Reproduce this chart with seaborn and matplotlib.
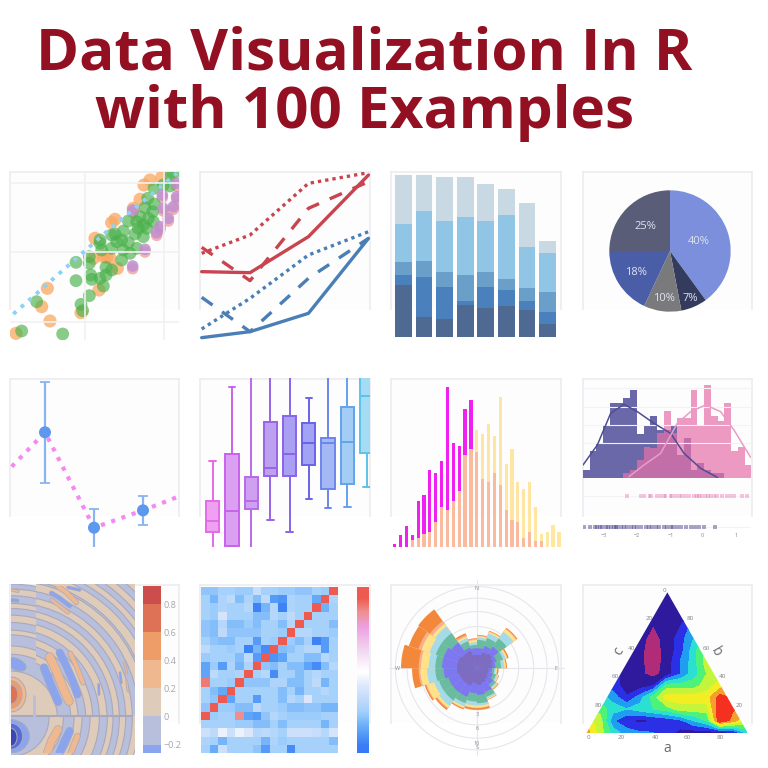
import numpy as np
import pandas as pd
import seaborn as sns
import matplotlib
matplotlib.use("Agg")
import matplotlib.pyplot as plt
import matplotlib.patheffects as pe
from matplotlib.cm import ScalarMappable
from matplotlib.colors import BoundaryNorm, LinearSegmentedColormap, ListedColormap
from matplotlib.patches import Circle, Ellipse, Polygon, Rectangle

# --- panel 1: scatter
orange_x = [48, 125, 150, 142, 297, 243, 352, 320, 285, 335, 345, 400, 420, 432, 450, 485, 280, 310, 330]
orange_y = [520, 440, 483, 385, 390, 458, 325, 292, 235, 188, 178, 145, 118, 75, 60, 52, 295, 290, 295]
green_x = [65, 110, 188, 228, 228, 243, 248, 268, 268, 268, 272, 275, 300, 318, 310, 318, 335, 300, 300, 305,
           335, 335, 345, 370, 370, 385, 365, 390, 405, 430, 385, 410, 420, 430, 445, 460, 435, 463, 458, 443,
           462, 510, 510, 490, 520, 410, 365, 350, 440, 415]
green_y = [513, 425, 522, 362, 307, 433, 452, 407, 290, 310, 345, 358, 355, 345, 378, 322, 330, 240, 250, 270,
           265, 225, 222, 213, 270, 248, 300, 280, 222, 230, 183, 185, 170, 195, 175, 185, 143, 132, 155, 115,
           85, 45, 78, 75, 40, 265, 240, 245, 205, 205]
purple_x = [398, 398, 435, 470, 480, 505, 490, 520, 530, 487, 530]
purple_y = [150, 318, 268, 218, 200, 175, 145, 140, 110, 105, 70]
trend_x = [40, 320, 530]
trend_y = [462, 215, 40]

# --- panel 2: lines
line_x = [605, 750, 925, 1105]
red_solid = [335, 338, 230, 45]
red_dash = [262, 362, 145, 65]
red_dot = [280, 225, 70, 38]
blue_solid = [533, 515, 460, 235]
blue_dash = [412, 515, 355, 235]
blue_dot = [507, 415, 285, 215]

# --- panel 3: stacked bars
stack_1 = [52, 20, 18, 32, 29, 31, 27, 13]
stack_2 = [10, 40, 32, 4, 21, 16, 9, 12]
stack_3 = [13, 16, 15, 26, 15, 11, 13, 20]
stack_4 = [38, 50, 51, 58, 51, 64, 41, 39]
stack_5 = [49, 36, 44, 40, 37, 26, 44, 12]

# --- panel 4: pie
pie_values = [40, 7, 10, 18, 25]
pie_colors = ["#7b8fdc", "#343c5e", "#7a7a7c", "#4a5ea8", "#5a5d78"]

# --- panel 5: error bars
err_x = [135, 282, 429]
err_y = [187, 473, 421]
err_top = [35, 231, 377]
err_bottom = [337, 530, 463]
err_line_x = [35, 135, 282, 429, 535]
err_line_y = [290, 187, 473, 421, 380]

# --- panel 6: boxes (low, q1, median, q3, high)
box_values = [
    [-5, 14.3, 26, 46, 85.7],
    [1, 1, 35.3, 92.3, 159.3],
    [-5, 38, 46, 69.7, 180],
    [26.3, 71, 78.3, 124.3, 180],
    [14.3, 71, 92.7, 130.3, 180],
    [47.3, 82, 103.3, 123.7, 148.3],
    [38.3, 57.7, 103.3, 108.3, 180],
    [40, 62.7, 105, 139.3, 180],
    [59.7, 93.7, 150.3, 175, 180],
]
box_edges = ["#e36be8", "#c862ec", "#b86ae8", "#9a63e6", "#8a63ea", "#6a62e8", "#6d85ea", "#62a3ec", "#5cc2ec"]
box_fills = ["#f0a0f0", "#dca0f2", "#cfa0f0", "#bda0f0", "#a9a0f4", "#a3a3f5", "#a3b8f5", "#a3cdf5", "#a5dcf3"]

# --- panel 7: overlaid histogram
hist_magenta = [3, 12, 21, 12, 46, 52, 77, 74, 86, 160, 104, 101, 138, 147, 95, 68, 65, 74, 62, 37, 27, 25, 9, 15, 6, 6, 0, 0, 0]
hist_yellow = [0, 0, 0, 7, 9, 13, 15, 25, 40, 37, 46, 56, 92, 98, 117, 113, 123, 111, 150, 83, 98, 65, 58, 65, 40, 13, 15, 22, 15]

# --- panel 8: distribution with rugs
dist_blue = [8, 27, 34, 53, 75, 75, 80, 88, 44, 53, 62, 48, 48, 53, 23, 40, 8, 15, 8, 5, 5, 0, 0, 0, 0]
dist_pink = [0, 0, 0, 0, 0, 0, 5, 8, 18, 31, 30, 45, 67, 45, 60, 60, 88, 53, 93, 62, 57, 75, 27, 31, 13]
kde_blue_x = [597, 640, 680, 720, 760, 810, 860, 900, 950, 1000]
kde_blue_y = [285, 225, 130, 103, 125, 160, 190, 250, 295, 322]
kde_pink_x = [735, 780, 830, 880, 920, 965, 1010, 1050, 1100]
kde_pink_y = [320, 285, 250, 160, 125, 105, 125, 180, 262]
rug_pink = [730, 772, 782, 797, 802, 820, 830, 840, 845, 860, 865, 875, 885, 895, 905, 915, 930, 940, 945, 955,
            965, 972, 980, 990, 1000, 1015, 1030, 1040, 1050, 1075, 1090]
rug_blue = [600, 618, 632, 640, 648, 655, 665, 672, 680, 690, 695, 700, 710, 720, 730, 740, 750, 760, 770, 785,
            795, 805, 815, 825, 840, 850, 860, 868, 880, 890, 905, 920, 932, 945, 960, 992]
dist_ticks = [660, 760, 860, 955, 1055]
dist_tick_labels = ["−3", "−2", "−1", "0", "1"]

# --- panel 9: contour bands, radii of the band edges
band_center = (8, 400)
bands_upper = [140, 180, 202, 225, 246, 266, 289, 307, 326, 345, 365, 385, 409, 415, 441, 457, 474, 491, 511, 530, 560]
bands_strip = [140, 190, 215, 248, 262, 285, 307, 327, 342, 365, 385, 400]
bands_lower = [115, 158, 190, 214, 238, 266, 290, 307, 326, 345, 365, 385]
# lobes: (colour name, width, centre line x, centre line y)
lobes = [
    ("blue", 22, [108, 118, 130, 150], [250, 275, 305, 352]),
    ("orange", 24, [125, 145, 165, 183], [218, 260, 310, 350]),
    ("blue", 20, [155, 175, 195, 208], [205, 245, 290, 330]),
    ("orange", 12, [187, 205, 225], [207, 245, 295]),
    ("orange", 22, [150, 130, 118], [435, 470, 505]),
    ("blue", 22, [185, 170, 155], [440, 470, 505]),
    ("orange", 16, [208, 198, 188], [455, 480, 505]),
    ("orange", 12, [150, 175, 205], [8, 25, 55]),
    ("blue", 10, [130, 155, 185], [27, 42, 65]),
    ("orange", 8, [130, 150, 180], [47, 62, 85]),
    ("blue", 6, [180, 215], [10, 18]),
    ("orange", 5, [12, 30], [18, 22]),
    ("blue", 8, [12, 28], [48, 50]),
    ("orange", 4, [350, 356], [235, 265]),
    ("blue", 4, [336, 340], [265, 295]),
    ("orange", 4, [356, 360], [290, 320]),
    ("blue", 4, [272, 273], [300, 330]),
]
contour_levels = [-0.8, -0.6, -0.4, -0.2, 0, 0.2, 0.4, 0.6, 0.8, 1.0]
contour_colors = ["#3c46b4", "#5a6cd8", "#8aa5ee", "#b7bfdc", "#dfcbb9", "#efb88f", "#ee9c68", "#dd7257", "#cc4e4c"]
contour_ticks = [-0.2, 0, 0.2, 0.4, 0.6, 0.8]

# --- panel 10: heatmap
heat_rows = [
    [22, 22, 26, 26, 24, 24, 34, 26, 26, 24, 24, 22, 22, 26, 24, 93],
    [26, 18, 28, 32, 20, 28, 20, 32, 12, 10, 28, 26, 26, 15, 93, 28],
    [26, 24, 28, 26, 26, 30, 6, 18, 30, 6, 28, 26, 26, 93, 17, 26],
    [26, 24, 38, 26, 26, 26, 20, 20, 30, 26, 32, 26, 93, 26, 26, 26],
    [22, 20, 30, 20, 20, 24, 20, 26, 26, 20, 30, 93, 26, 26, 26, 20],
    [22, 20, 32, 22, 22, 22, 22, 26, 26, 24, 93, 30, 30, 26, 26, 24],
    [26, 22, 20, 20, 26, 26, 12, 26, 24, 93, 24, 20, 26, 6, 12, 26],
    [32, 26, 26, 24, 26, 6, 18, 8, 93, 20, 22, 26, 30, 30, 12, 26],
    [24, 26, 26, 26, 20, 32, 12, 93, 10, 14, 26, 26, 20, 20, 30, 26],
    [14, 24, 12, 28, 18, 28, 93, 22, 20, 26, 20, 20, 14, 8, 20, 30],
    [14, 32, 26, 26, 28, 93, 26, 30, 8, 26, 26, 20, 26, 30, 26, 26],
    [88, 26, 26, 24, 93, 22, 22, 22, 28, 28, 20, 20, 26, 32, 18, 26],
    [26, 20, 15, 93, 26, 26, 26, 26, 26, 20, 26, 18, 26, 26, 30, 26],
    [26, 22, 93, 14, 26, 26, 12, 26, 26, 20, 30, 26, 40, 26, 26, 26],
    [22, 93, 24, 24, 20, 20, 32, 26, 26, 24, 20, 20, 22, 22, 18, 18],
    [93, 24, 26, 26, 85, 14, 12, 22, 30, 26, 24, 24, 24, 24, 26, 26],
    [26, 26, 26, 26, 24, 24, 20, 20, 26, 20, 26, 26, 26, 26, 18, 26],
    [36, 32, 44, 36, 44, 40, 30, 32, 30, 26, 36, 36, 36, 34, 30, 38],
    [28, 26, 18, 26, 26, 26, 26, 18, 28, 24, 26, 26, 26, 26, 26, 20],
    [26, 16, 36, 26, 26, 26, 22, 12, 26, 26, 8, 26, 26, 26, 26, 26],
]

# --- panel 11: wind rose, outer radius of each layer per sector
rose_dark = [40, 50, 55, 50, 45, 35, 35, 40, 45, 50, 45, 55, 55, 55, 60, 60, 60, 55, 55, 40]
rose_blue = [60, 70, 80, 62, 55, 45, 50, 60, 75, 80, 75, 90, 90, 90, 100, 105, 105, 95, 65, 60]
rose_green = [85, 95, 110, 82, 72, 52, 60, 70, 90, 105, 100, 110, 120, 120, 125, 125, 130, 130, 85, 70]
rose_light = [92, 110, 135, 90, 82, 56, 65, 74, 95, 112, 112, 120, 140, 135, 150, 145, 150, 155, 95, 78]
rose_yellow = [96, 115, 145, 95, 86, 60, 68, 77, 98, 118, 118, 125, 147, 158, 170, 168, 175, 165, 100, 85]
rose_salmon = [98, 116, 147, 96, 87, 61, 69, 78, 99, 120, 120, 127, 150, 161, 175, 175, 185, 175, 105, 88]
rose_orange = [100, 118, 150, 100, 90, 65, 70, 80, 100, 125, 125, 130, 155, 165, 195, 228, 215, 218, 110, 90]
rose_rings = [80, 125, 170, 210, 245]

# --- panel 12: ternary contour
ternary_x = [20, 60, 100, 140, 180, 220, 260, 300, 340, 380, 420, 460, 500]
ternary_y = [25, 60, 95, 130, 165, 200, 235, 270, 305, 340, 375, 410, 445]
ternary_z = [
    [1, 1, 1, 1, 1, 1, 1, 1, 1, 1, 1, 1, 1],
    [1, 1, 1, 1, 1, 1, 1, 1, 1, 2, 2, 2, 2],
    [1, 1, 1, 1, 1, 1, 1, 1, 2, 3, 3, 3, 3],
    [1, 1, 1, 1, 1, 0.45, 1, 1.5, 3, 4, 4, 4, 4],
    [1, 1, 1, 1, 0.8, 0.1, 0.85, 2, 3.5, 5, 5, 5, 5],
    [1, 1, 1, 1, 0.7, 0, 0.85, 2, 4, 6, 6, 6, 6],
    [2, 2, 2, 1, 0.7, 0, 0.85, 2.5, 4, 6, 6, 6, 6],
    [3, 3, 2, 1, 0.7, 0.1, 0.95, 2.5, 4, 5.5, 6, 7, 7],
    [4, 3, 2, 1, 1, 1.5, 5, 5, 5, 6, 7, 8, 8],
    [5, 4, 3, 1.6, 3, 5, 7, 7, 7, 7, 9, 8.2, 9],
    [6, 5, 4, 3.5, 4, 4.5, 5, 6, 6, 6, 9.5, 8.6, 8],
    [7, 6, 2.6, 1.6, 1.2, 1.5, 1.8, 2.2, 3.5, 4.5, 9.5, 8, 6],
    [8, 6, 4, 3, 2.6, 2.5, 2, 1.2, 1, 1, 1, 1.5, 4],
]
ternary_colors = ["#b02c78", "#2f1a9e", "#2b2fe6", "#1f9df0", "#2be0d0", "#4cf27a", "#c4f53a", "#f2ee24", "#f5a02c", "#f43020"]

sns.set_style("white")
plt.rcParams["font.family"] = ["Open Sans", "DejaVu Sans"]

fig = plt.figure(figsize=(7.68, 7.68), dpi=100)
FRAME = "#ececf1"


def px_axes(x0, y0, x1, y1, **kw):
    """axes placed by its pixel box in the 768x768 picture, y measured from the top"""
    ax = fig.add_axes([x0 / 768, 1 - y1 / 768, (x1 - x0) / 768, (y1 - y0) / 768], **kw)
    ax.patch.set_alpha(0)
    return ax


def bare(ax):
    ax.set_xticks([])
    ax.set_yticks([])
    ax.set_xlabel("")
    ax.set_ylabel("")
    for s in ax.spines.values():
        s.set_visible(False)


def frame(x0, y0, x1, y1):
    ax = px_axes(x0, y0, x1, y1)
    ax.patch.set_facecolor("#fdfdfe")
    ax.patch.set_alpha(1)
    ax.set_xticks([])
    ax.set_yticks([])
    ax.spines["bottom"].set_visible(False)
    for name in ["left", "right", "top"]:
        ax.spines[name].set_color(FRAME)
        ax.spines[name].set_linewidth(1.2)


def line(ax, x, y, color, lw, ls="-"):
    sns.lineplot(x=x, y=y, color=color, linewidth=lw, linestyle=ls, sort=False, estimator=None, ax=ax, legend=False)


for left, right in [(10, 178.5), (200, 369.5), (391, 561), (582.5, 752)]:
    frame(left, 172, right, 309)
    frame(left, 378.5, right, 516)
    frame(left, 585, right, 723)

# title
fig.text(364 / 768, 1 - 70 / 768, "Data Visualization In R", ha="center", va="baseline",
         fontsize=42, fontweight="bold", color="#931022")
fig.text(364.5 / 768, 1 - 128 / 768, "with 100 Examples", ha="center", va="baseline",
         fontsize=42, fontweight="bold", color="#931022")

# panel 1
ax = px_axes(10, 172, 179, 340)
for v in [255, 492]:
    ax.axvline(v, color="#f1f1f5", lw=1.2)
for v in [68, 275, 485]:
    ax.axhline(v, color="#f1f1f5", lw=1.2)
line(ax, trend_x, trend_y, "#8fd0f5", 2.8, (0, (1, 1.6)))
sns.scatterplot(x=orange_x, y=orange_y, color="#f9a860", s=90, alpha=0.75, edgecolor="none", ax=ax)
sns.scatterplot(x=purple_x, y=[v + 8 for v in purple_y], color="#f0a0a0", s=70, alpha=0.8, edgecolor="none", ax=ax)
sns.scatterplot(x=green_x, y=green_y, color="#4ab04a", s=85, alpha=0.65, edgecolor="none", ax=ax)
sns.scatterplot(x=purple_x, y=purple_y, color="#c08fd0", s=70, alpha=0.85, edgecolor="none", ax=ax)
ax.set_xlim(30, 537)
ax.set_ylim(540, 36)
bare(ax)

# panel 2
ax = px_axes(200, 172, 369.5, 340)
line(ax, line_x, red_solid, "#c9444e", 2.4)
line(ax, line_x, red_dash, "#c9444e", 2.4, (0, (4, 3.5)))
line(ax, line_x, red_dot, "#c9444e", 2.4, (0, (1, 1.2)))
line(ax, line_x, blue_solid, "#4a7fb5", 2.4)
line(ax, line_x, blue_dash, "#4a7fb5", 2.4, (0, (4, 3.5)))
line(ax, line_x, blue_dot, "#4a7fb5", 2.4, (0, (1, 1.2)))
ax.set_xlim(600, 1108)
ax.set_ylim(540, 36)
bare(ax)

# panel 3, drawn tallest first so each layer shows above the next one
ax = px_axes(391, 172, 561, 337)
stacks = np.cumsum([stack_1, stack_2, stack_3, stack_4, stack_5], axis=0)
stack_colors = ["#4f6a92", "#4a80bb", "#6a9fca", "#90c5e6", "#c9d9e3"]
cats = list(range(len(stack_1)))
for heights, color in zip(stacks[::-1], stack_colors[::-1]):
    sns.barplot(x=cats, y=heights, color=color, saturation=1, width=0.81, linewidth=0, ax=ax)
ax.set_xlim(-0.6, 7.65)
ax.set_ylim(0, 165)
bare(ax)

# panel 4
r = 60.7 * 1.03
ax = px_axes(670 - r, 251 - r, 670 + r, 251 + r)
wedges, texts, autotexts = ax.pie(pie_values, colors=pie_colors, startangle=90, counterclock=False,
                                  autopct="%d%%", pctdistance=0.7, wedgeprops={"linewidth": 0},
                                  textprops={"color": "#dfe2f2", "fontsize": 8})
for t, dist in zip(autotexts, [0.5, 0.85, 0.79, 0.66, 0.58]):
    t.set_position(np.array(t.get_position()) * dist / 0.7)
ax.set_xlim(-1.03, 1.03)
ax.set_ylim(-1.03, 1.03)

# panel 5
ax = px_axes(10, 378.3, 179, 546.7)
line(ax, err_line_x, err_line_y, "#f48af0", 3, (0, (1, 1.6)))
yerr = [np.array(err_bottom) - np.array(err_y), np.array(err_y) - np.array(err_top)]
ax.errorbar(err_x, err_y, yerr=yerr, fmt="none", ecolor="#8ab4f0", elinewidth=1.6, capsize=3.5, capthick=1.3)
sns.scatterplot(x=err_x, y=err_y, color="#5e97ee", s=75, edgecolor="none", ax=ax, zorder=5)
ax.set_xlim(30, 537)
ax.set_ylim(530, 25)
bare(ax)

# panel 6
ax = px_axes(200, 378.3, 370, 546.7)
for pos, (vals, edge, fill) in enumerate(zip(box_values, box_edges, box_fills)):
    sns.boxplot(x=[pos] * len(vals), y=vals, native_scale=True, whis=(0, 100), width=0.69, color=fill,
                linecolor=edge, linewidth=1.4, saturation=1, ax=ax)
ax.set_xlim(-0.66, 8.18)
ax.set_ylim(0, 168.3)
bare(ax)

# panel 7
ax = px_axes(391.3, 378.3, 560.7, 546.7)
cats = list(range(len(hist_magenta)))
sns.barplot(x=cats, y=hist_magenta, color="#f020f0", saturation=1, width=0.55, linewidth=0, ax=ax)
sns.barplot(x=cats, y=hist_yellow, color="#ffe08a", saturation=1, width=0.55, linewidth=0, alpha=0.8, ax=ax)
ax.set_xlim(-0.57, 28.3)
ax.set_ylim(0, 168.3)
bare(ax)

# panel 8
ax = px_axes(583, 378.3, 751.3, 478.3)
cats = list(range(len(dist_blue)))
sns.barplot(x=cats, y=dist_blue, color="#6a68a8", saturation=1, width=1, linewidth=0, ax=ax)
sns.barplot(x=cats, y=dist_pink, color="#e772aa", saturation=1, width=1, linewidth=0, alpha=0.71, ax=ax)
ax.set_xlim(-0.5, 24.5)
ax.set_ylim(0, 100)
bare(ax)

ax = px_axes(583, 378.3, 751.3, 546.7)
for v in [55, 110, 165, 220, 378, 472]:
    ax.axhline(v, color="#f3f3f7", lw=0.8, zorder=0)
line(ax, kde_blue_x, kde_blue_y, "#4f4d92", 1.1)
line(ax, kde_pink_x, kde_pink_y, "#eb9cc6", 1.1)
sns.scatterplot(x=rug_pink, y=[378] * len(rug_pink), color="#e772aa", marker="s", s=7, alpha=0.4, edgecolor="none", ax=ax)
sns.scatterplot(x=rug_blue, y=[472] * len(rug_blue), color="#4f4d92", marker="s", s=8, alpha=0.5, edgecolor="none", ax=ax)
for v, label in zip(dist_ticks, dist_tick_labels):
    ax.text(v, 495, label, ha="center", va="center", fontsize=4, color="#8a8a92")
ax.set_xlim(597, 1102)
ax.set_ylim(530, 25)
bare(ax)

# panel 9
ax = px_axes(10.7, 585.7, 132, 753)
ax.set_xlim(8, 372)
ax.set_ylim(505, 5)
ax.patch.set_alpha(1)
ax.patch.set_facecolor("#dfcbb9")
BAND_EDGE = "#a9a9bd"
BEIGE, GREY, BLUE, ORANGE = "#dfcbb9", "#b7bfdc", "#8aa5ee", "#efb88f"


def draw_bands(radii, first, second, box):
    clip = Rectangle((box[0], box[1]), box[2] - box[0], box[3] - box[1], transform=ax.transData)
    for i in range(len(radii) - 1, -1, -1):
        color = first if i % 2 == 0 else second
        patch = Circle(band_center, radii[i], facecolor=color, edgecolor=BAND_EDGE, linewidth=0.8)
        ax.add_patch(patch)
        patch.set_clip_path(clip)


draw_bands(bands_upper, BEIGE, GREY, (85, 0, 380, 395))
draw_bands(bands_strip, BEIGE, GREY, (8, 0, 85, 395))
draw_bands(bands_lower, GREY, BEIGE, (8, 395, 380, 510))
lobe_colors = {"blue": BLUE, "orange": ORANGE}
for name, width, lobe_x, lobe_y in lobes:
    # width is given in picture units, a third of a pixel each
    ax.plot(lobe_x, lobe_y, color=lobe_colors[name], lw=width / 3 * 0.72, solid_capstyle="round",
            path_effects=[pe.Stroke(linewidth=width / 3 * 0.72 + 1, foreground=BAND_EDGE), pe.Normal()])
ax.add_patch(Ellipse((25, 240), 62, 34, angle=25, facecolor=BLUE, edgecolor=BAND_EDGE, lw=0.7))
ax.add_patch(Ellipse((8, 330), 92, 105, facecolor="#efb88f", edgecolor=BAND_EDGE, lw=0.7))
ax.add_patch(Ellipse((8, 330), 68, 82, facecolor="#ee9c68", edgecolor=BAND_EDGE, lw=0.7))
ax.add_patch(Ellipse((8, 330), 42, 56, facecolor="#dd7257", edgecolor=BAND_EDGE, lw=0.7))
ax.add_patch(Ellipse((8, 455), 112, 100, facecolor=BLUE, edgecolor=BAND_EDGE, lw=0.7))
ax.add_patch(Ellipse((8, 455), 72, 78, facecolor="#5a6cd8", edgecolor=BAND_EDGE, lw=0.7))
ax.add_patch(Ellipse((8, 458), 38, 54, facecolor="#3c46b4", edgecolor=BAND_EDGE, lw=0.7))
ax.plot([8, 372], [395, 395], color=BAND_EDGE, lw=1.5)
ax.plot([78, 78], [335, 395], color=GREY, lw=2)
bare(ax)

cax = px_axes(143, 586.3, 161, 753)
contour_norm = BoundaryNorm(contour_levels, len(contour_colors))
cb = fig.colorbar(ScalarMappable(norm=contour_norm, cmap=ListedColormap(contour_colors)), cax=cax, ticks=contour_ticks)
cax.set_ylim(-0.26, 0.926)
cb.outline.set_visible(False)
cax.tick_params(length=0, labelsize=6.5, labelcolor="#a5a5ad", pad=2)
cax.set_yticklabels(["−0.2", "0", "0.2", "0.4", "0.6", "0.8"])

# panel 10
ax = px_axes(201.3, 586.7, 338, 753.3)
cax = px_axes(356.7, 586.7, 369.3, 753.3)
heat_cmap = LinearSegmentedColormap.from_list(
    "heat", [(0, "#3577f5"), (0.05, "#3a7ff5"), (0.15, "#63a9f8"), (0.25, "#a3d0fb"), (0.4, "#dce6fb"),
             (0.49, "#ffffff"), (0.6, "#f3dcf3"), (0.76, "#eca0e0"), (0.85, "#ee8f90"), (0.93, "#ef5a50"), (1, "#ee5a50")])
sns.heatmap(pd.DataFrame(heat_rows), cmap=heat_cmap, vmin=0, vmax=100, ax=ax, cbar_ax=cax,
            xticklabels=False, yticklabels=False)
cax.set_yticks([])
bare(ax)

# panel 11
cx, cy, rad = 477, 668.2, 88
ax = px_axes(cx - rad, cy - rad, cx + rad, cy + rad, projection="polar")
ax.set_theta_zero_location("N")
ax.set_theta_direction(-1)
ax.set_axisbelow(True)
sector_centers = np.deg2rad(np.arange(len(rose_dark)) * 18 + 9)
rose_layers = [
    (rose_orange, "#f4883a"), (rose_salmon, "#f7b08e"), (rose_yellow, "#ffe28a"), (rose_light, "#a5dbe8"),
    (rose_green, "#6bbba0"), (rose_blue, "#7f77f2"), (rose_dark, "#7d6bc0"),
]
for radii, color in rose_layers:
    ax.bar(sector_centers, radii, width=np.deg2rad(18), color=color, linewidth=0)
ax.set_ylim(0, 264)
ax.set_rgrids(rose_rings, labels=[""] * len(rose_rings), color="#e6e6ec")
ax.set_thetagrids([0, 90, 180, 270], labels=[""] * 4)
ax.grid(color="#e6e6ec", lw=0.8)
ax.spines["polar"].set_visible(False)
for ang, label in zip([0, 90, 180, 270], ["N", "E", "S", "W"]):
    ax.text(np.deg2rad(ang), 238, label, ha="center", va="center", fontsize=4, color="#8a8a92")
for rr, label in zip([140, 182, 225], ["3", "6", "10"]):
    ax.text(np.pi, rr, label, ha="center", va="center", fontsize=4, color="#8a8a92")

# panel 12
ax = px_axes(580, 584, 760, 756)
tern_cmap = ListedColormap(ternary_colors)
cf = ax.contourf(ternary_x, ternary_y, np.array(ternary_z), levels=np.arange(-0.5, 10, 1), cmap=tern_cmap)
tri = Polygon([(262, 25), (18, 450), (505, 450)], transform=ax.transData, facecolor="none", edgecolor="none")
ax.add_patch(tri)
cf.set_clip_path(tri)
for v, label in zip([25, 125, 225, 323, 420], ["0", "20", "40", "60", "80"]):
    ax.text(v, 460, label, ha="center", va="center", fontsize=4.5, color="#808088")
for px, py, label in [(55, 365, "80"), (105, 277, "60"), (155, 192, "40"), (207, 105, "20"), (252, 20, "0"),
                      (330, 105, "80"), (378, 192, "60"), (428, 277, "40"), (478, 365, "20")]:
    ax.text(px, py, label, ha="center", va="center", fontsize=4.5, color="#808088")
ax.text(262, 495, "a", ha="center", va="center", fontsize=10, color="#6a6a72")
ax.text(118, 203, "c", ha="center", va="center", fontsize=10, rotation=60, color="#6a6a72")
ax.text(408, 203, "b", ha="center", va="center", fontsize=10, rotation=-60, color="#6a6a72")
ax.set_xlim(0, 540)
ax.set_ylim(516, 0)
bare(ax)

fig.savefig("out.png", dpi=100)
